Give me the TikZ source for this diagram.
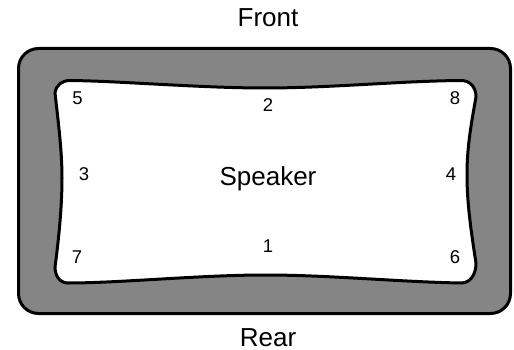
\documentclass[tikz,border=0pt]{standalone}
\usepackage{fontspec}
\setmainfont{Liberation Sans}
\tikzset{
  lbl/.style={anchor=base, inner sep=0pt, font=\fontsize{26}{28}\selectfont},
  num/.style={anchor=base, inner sep=0pt, font=\fontsize{18.5}{20}\selectfont},
  rim/.style={draw=black, line width=3pt, fill=black!48},
  cone/.style={draw=black, line width=3pt, fill=white},
}
\begin{document}
\begin{tikzpicture}[x=1pt,y=-1pt]
\useasboundingbox (0,0) rectangle (514,350);
% outer rim
\draw[rim, rounded corners=20pt] (18.5,48.5) rectangle (510.5,313.5);
% inner speaker area
\draw[cone] (70,80.5)
  .. controls (120,81) and (200,88) .. (265,88)
  .. controls (330,88) and (400,81) .. (461,80.5)
  .. controls (470,80.5) and (476,87) .. (476,97)
  .. controls (470,130) and (467,150) .. (467,175)
  .. controls (467,200) and (470,225) .. (476,263)
  .. controls (476,275) and (470,283) .. (461,283)
  .. controls (400,282) and (330,275) .. (265,275)
  .. controls (200,275) and (120,283) .. (68,283)
  .. controls (60,283) and (55,276) .. (55,267)
  .. controls (60,230) and (62,200) .. (62,178)
  .. controls (62,150) and (58,120) .. (55,93)
  .. controls (56,85) and (62,80.5) .. (70,80.5) -- cycle;
% labels
\node[lbl] (front) at (268,27) {Front};
\node[lbl] (rear) at (268,346) {Rear};
\node[lbl] (spk) at (268,185) {Speaker};
\node[num] (n5) at (77.5,105) {5};
\node[num] (n2) at (268,112) {2};
\node[num] (n8) at (455,105) {8};
\node[num] (n3) at (84,180) {3};
\node[num] (n4) at (451,180) {4};
\node[num] (n7) at (77,263) {7};
\node[num] (n1) at (268,252) {1};
\node[num] (n6) at (455,263) {6};
\end{tikzpicture}
\end{document}
